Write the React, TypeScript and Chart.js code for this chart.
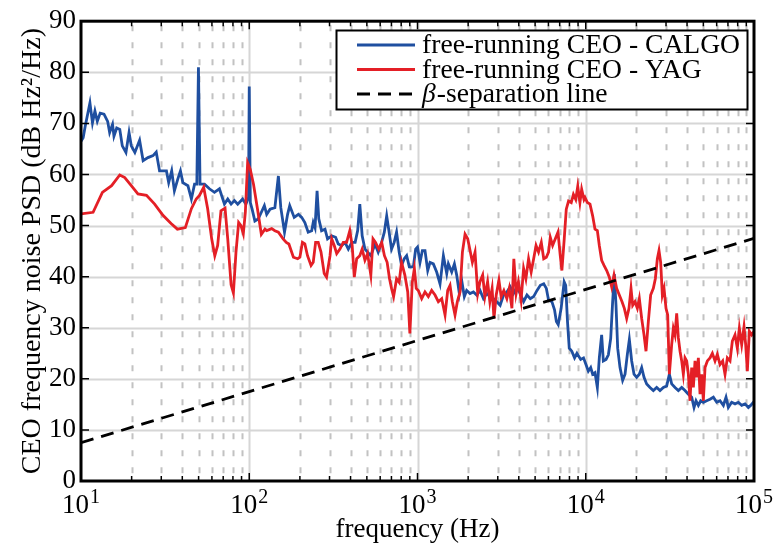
import React, { useEffect, useRef } from 'react';
import { Chart, registerables } from 'chart.js';

Chart.register(...registerables);

const FONT = '"Liberation Serif", "Times New Roman", serif';

// ---------- data ----------
const calgoFreq = [
  10.0, 10.3, 10.6, 11.3, 11.7, 12.1, 12.5, 13.0, 13.7, 14.4, 14.8, 15.4, 15.7, 16.3, 17.0, 17.6, 18.5, 19.3, 19.9, 20.9,
  22.3, 23.4, 25.0, 26.8, 28.0, 29.3, 32.2, 33.2, 34.6, 35.9, 37.6, 39.0, 40.3, 43.2, 45.3, 47.3, 48.8, 49.9, 51.0, 54.2,
  58.0, 62.1, 66.5, 71.2, 74.5, 78.0, 81.6, 85.4, 91.3, 95.5, 99.0, 100, 101.5, 104, 108, 113, 118, 123, 127, 133,
  142, 149, 154, 162, 169, 174, 185, 196, 205, 214, 224, 235, 240, 246, 253, 259, 269, 282, 292, 309,
  326, 338, 354, 371, 388, 407, 426, 441, 454, 469, 487, 505, 528, 559, 584, 612, 635, 656, 676, 701,
  727, 751, 778, 804, 834, 862, 894, 945, 975, 1000, 1035, 1069, 1108, 1150, 1187, 1242, 1300, 1361, 1425, 1492,
  1526, 1597, 1657, 1710, 1773, 1830, 1898, 1960, 2052, 2149, 2249, 2353, 2465, 2580, 2701, 2828, 2960, 3099, 3245, 3397,
  3556, 3723, 3898, 4081, 4272, 4473, 4683, 4902, 5132, 5373, 5626, 5833, 6010, 6292, 6523, 6690, 6860, 7140, 7440, 7600,
  7790, 7980, 8260, 8580, 8860, 9330, 9700, 10030, 10360, 10700, 10990, 11350, 11720, 12040, 12430, 12720, 13200, 13630, 14070, 14450,
  14790, 15130, 15480, 15980, 16570, 17120, 17670, 18160, 18750, 19360, 20070, 20820, 21500, 22200, 23020, 24090, 25220, 26400, 27630, 28920,
  30270, 31400, 32410, 33930, 35520, 37180, 38900, 40720, 42620, 44010, 45230, 46700, 48210, 50000, 52330, 54790, 57350, 60030, 62810, 65740,
  68180, 70390, 73660, 77130, 80720, 84490, 88430, 92560, 95540, 99100, 100000,
];
const calgoPSD = [
  66.5, 67.2, 69.5, 74.0, 70.1, 72.4, 70.4, 72.0, 71.8, 70.4, 68.2, 69.8, 67.5, 69.1, 68.8, 65.6, 64.3, 68.2, 65.6, 64.3,
  66.7, 62.7, 63.3, 63.7, 64.4, 60.7, 60.7, 58.4, 60.7, 56.8, 59.1, 60.7, 58.4, 57.8, 55.2, 58.1, 58.1, 81.0, 58.1, 58.1,
  57.2, 56.5, 57.2, 54.2, 55.2, 54.2, 54.9, 54.2, 55.2, 54.2, 55.5, 77.2, 54.5, 53.2, 50.9, 51.3, 52.6, 53.9, 52.2, 53.2,
  53.5, 59.7, 53.5, 48.7, 52.2, 53.9, 51.6, 52.2, 51.6, 50.6, 48.7, 49.0, 50.6, 49.6, 56.8, 51.3, 49.0, 49.3, 47.4, 48.0,
  47.7, 46.4, 46.1, 46.7, 45.4, 46.7, 46.7, 49.0, 54.2, 48.0, 45.4, 44.8, 44.1, 46.4, 44.8, 46.7, 48.7, 51.9, 49.0, 45.4,
  46.7, 48.7, 44.8, 42.2, 43.5, 44.1, 41.9, 41.9, 45.4, 45.8, 42.8, 45.1, 45.1, 41.2, 42.8, 42.5, 40.9, 38.6, 44.1, 40.6,
  42.5, 40.9, 42.5, 40.3, 36.7, 39.3, 36.1, 37.3, 36.7, 37.0, 36.4, 37.3, 35.7, 36.7, 36.1, 35.7, 35.1, 34.4, 36.4, 37.0,
  38.0, 36.7, 38.0, 36.7, 35.1, 36.4, 35.7, 36.1, 37.3, 38.3, 38.6, 37.7, 35.4, 35.1, 33.5, 31.2, 30.6, 33.8, 39.0, 38.3,
  31.2, 26.0, 25.4, 24.1, 25.0, 23.8, 24.1, 22.8, 21.5, 22.2, 20.9, 21.2, 18.3, 24.1, 28.6, 23.5, 23.8, 24.7, 27.9, 35.1,
  40.5, 34.4, 26.0, 22.2, 19.7, 20.9, 24.8, 27.7, 23.5, 20.9, 20.3, 20.9, 22.2, 20.3, 19.0, 18.3, 17.7, 18.3, 17.7, 18.3,
  18.6, 20.9, 19.0, 18.3, 17.7, 18.3, 17.7, 17.0, 16.4, 14.4, 15.7, 14.8, 15.7, 15.4, 15.7, 16.0, 16.4, 15.4, 15.7, 14.8,
  16.4, 14.4, 15.4, 15.1, 15.4, 14.8, 15.1, 14.4, 14.8, 15.4, 15.0,
];

const yagFreq = [
  10, 11.8, 13.4, 15.2, 17.0, 18.2, 19.9, 21.8, 24.5, 27.4, 30.7, 34.3, 37.4, 41.7, 45.3, 48.4, 50.6, 53.6, 56.6, 59.8,
  62.4, 64.9, 67.9, 71.8, 74.5, 78.0, 80.5, 83.4, 86.5, 89.3, 92.2, 94.8, 97.8, 101.4, 106, 112, 118, 124, 127, 136,
  142, 149, 159, 166, 172, 183, 194, 200, 207, 214, 222, 233, 240, 248, 257, 267, 279, 288, 302, 309,
  320, 331, 346, 362, 379, 396, 409, 421, 435, 454, 469, 487, 505, 528, 544, 563, 588, 613, 636, 660,
  682, 701, 721, 751, 778, 804, 841, 875, 901, 931, 958, 983, 1011, 1059, 1108, 1160, 1214, 1271, 1330, 1393,
  1458, 1512, 1561, 1611, 1671, 1725, 1790, 1849, 1917, 1988, 2053, 2119, 2198, 2280, 2352, 2440, 2515, 2610, 2692, 2776,
  2848, 2937, 3047, 3143, 3261, 3397, 3510, 3640, 3738, 3856, 3978, 4128, 4272, 4408, 4572, 4738, 4902, 5066, 5242, 5442,
  5626, 5833, 6010, 6155, 6355, 6593, 6840, 7055, 7215, 7450, 7660, 7900, 8200, 8447, 8720, 8965, 9234, 9456, 9763, 9900,
  10220, 10600, 10990, 11350, 11720, 12040, 12430, 12840, 13320, 13810, 14260, 14720, 15260, 15830, 16430, 16960, 17510, 18070, 18580, 19010,
  19620, 20260, 20820, 21500, 22200, 22810, 23550, 24310, 25220, 25920, 26640, 27250, 27880, 28530, 29190, 29990, 30690, 31400, 32410, 33160,
  33930, 34710, 35520, 36340, 37180, 38020, 38900, 39800, 40720, 41660, 42620, 43610, 44620, 45640, 46700, 47770, 48880, 50000, 51160, 52820,
  54790, 56560, 58660, 60560, 62810, 65150, 67260, 69440, 72020, 74360, 77130, 79620, 81840, 84490, 87230, 89240, 91300, 93830, 96870, 100000,
];
const yagPSD = [
  52.3, 52.6, 56.5, 57.8, 59.9, 59.4, 57.8, 56.2, 55.9, 54.2, 52.0, 50.4, 49.3, 49.6, 53.3, 55.2, 55.9, 57.5, 53.3, 47.4,
  44.1, 46.1, 52.9, 53.4, 47.4, 38.4, 36.8, 44.8, 50.6, 50.0, 48.4, 52.6, 62.3, 61.0, 58.1, 53.2, 48.3, 49.3, 49.0, 49.4,
  49.0, 48.7, 47.4, 46.7, 46.4, 43.8, 43.5, 43.8, 46.7, 46.4, 44.1, 42.2, 42.8, 46.7, 46.7, 44.8, 40.6, 39.9, 44.1, 47.4,
  46.1, 44.5, 45.4, 46.7, 46.7, 49.0, 46.1, 39.9, 43.5, 44.1, 45.4, 43.2, 44.5, 40.3, 47.4, 46.7, 45.4, 46.7, 44.1, 42.8,
  39.6, 37.7, 36.1, 39.6, 38.9, 42.8, 40.3, 37.0, 28.9, 38.9, 41.6, 37.7, 37.3, 35.7, 37.0, 36.1, 37.3, 36.4, 35.1, 35.7,
  32.5, 37.3, 38.3, 35.1, 32.5, 35.1, 37.0, 44.8, 48.3, 47.4, 45.1, 42.8, 44.8, 36.7, 39.0, 40.3, 36.1, 39.0, 35.1, 37.7,
  31.8, 36.4, 39.3, 36.1, 37.3, 35.7, 37.7, 33.8, 43.5, 36.7, 39.0, 35.4, 41.6, 39.6, 43.5, 40.9, 43.5, 46.1, 44.8, 46.7,
  43.5, 43.8, 44.8, 47.7, 46.1, 47.4, 48.7, 44.1, 41.2, 47.4, 53.2, 54.8, 54.5, 56.1, 55.1, 57.7, 54.5, 57.1, 55.1, 55.5,
  54.5, 54.2, 51.9, 49.3, 49.0, 46.1, 43.2, 42.2, 41.2, 39.9, 38.0, 40.3, 37.7, 36.4, 35.1, 33.8, 31.8, 33.8, 37.7, 34.4,
  35.1, 33.8, 35.7, 31.8, 28.6, 25.4, 31.2, 36.4, 37.7, 39.6, 43.5, 45.1, 42.8, 36.4, 37.7, 33.8, 32.5, 20.9, 26.7, 29.9,
  28.6, 32.8, 28.0, 25.4, 23.5, 20.9, 24.1, 23.5, 20.9, 15.7, 22.2, 18.3, 23.5, 20.3, 24.1, 17.0, 20.9, 15.7, 22.2, 23.5,
  24.1, 25.0, 23.5, 24.8, 22.8, 23.5, 20.9, 24.1, 23.5, 27.4, 28.6, 26.0, 29.9, 26.7, 30.2, 26.7, 21.5, 29.3, 28.6, 29.3,
];

const betaFreq = [10, 100000];
const betaPSD = [7.5, 47.5];

// axes / ticks
const xMin = 10;
const xMax = 100000;
const yMin = 0;
const yMax = 90;
const yStep = 10;
const xDecades = [10, 100, 1000, 10000, 100000];
const xDecadeExponents = ['1', '2', '3', '4', '5'];
const minorMultipliers = [2, 3, 4, 5, 6, 7, 8, 9];

const seriesLabels = ['free-running CEO - CALGO', 'free-running CEO - YAG', 'β', '-separation line'];
const xTitle = 'frequency (Hz)';
const yTitle = 'CEO frequency noise PSD (dB Hz²/Hz)';

const BLUE = '#1f4fa0';
const RED = '#e41f26';

const toPoints = (xs: number[], ys: number[]) => xs.map((x, i) => ({ x, y: ys[i] }));

const decorPlugin = {
  id: 'decor',
  beforeDatasetsDraw(chart: any) {
    const { ctx, chartArea: a, scales } = chart;
    const x = scales.x;
    const y = scales.y;
    ctx.save();
    // horizontal grid
    ctx.strokeStyle = '#d6d6d6';
    ctx.lineWidth = 2;
    for (let v = yMin + yStep; v < yMax; v += yStep) {
      const py = Math.round(y.getPixelForValue(v)) + 0.5;
      ctx.beginPath();
      ctx.moveTo(a.left, py);
      ctx.lineTo(a.right, py);
      ctx.stroke();
    }
    // vertical major
    for (const d of xDecades) {
      if (d <= xMin || d >= xMax) continue;
      const px = Math.round(x.getPixelForValue(d)) + 0.5;
      ctx.beginPath();
      ctx.moveTo(px, a.top);
      ctx.lineTo(px, a.bottom);
      ctx.stroke();
    }
    // vertical minor dashed
    ctx.strokeStyle = '#c2c2c2';
    ctx.setLineDash([6, 11]);
    ctx.lineDashOffset = -4;
    for (const d of xDecades) {
      if (d >= xMax) continue;
      for (const m of minorMultipliers) {
        const px = Math.round(x.getPixelForValue(d * m)) + 0.5;
        ctx.beginPath();
        ctx.moveTo(px, a.top);
        ctx.lineTo(px, a.bottom);
        ctx.stroke();
      }
    }
    ctx.restore();
  },
  afterDatasetsDraw(chart: any) {
    const { ctx, chartArea: a, scales } = chart;
    const x = scales.x;
    const y = scales.y;
    ctx.save();
    ctx.strokeStyle = '#000';
    ctx.lineWidth = 1.5;
    // y ticks (left and right, inward)
    for (let v = yMin; v <= yMax; v += yStep) {
      const py = y.getPixelForValue(v);
      ctx.beginPath();
      ctx.moveTo(a.left, py);
      ctx.lineTo(a.left + 8, py);
      ctx.moveTo(a.right, py);
      ctx.lineTo(a.right - 8, py);
      ctx.stroke();
    }
    // x ticks (top and bottom, inward)
    for (const d of xDecades) {
      const px = x.getPixelForValue(d);
      ctx.beginPath();
      ctx.moveTo(px, a.bottom);
      ctx.lineTo(px, a.bottom - 8);
      ctx.moveTo(px, a.top);
      ctx.lineTo(px, a.top + 8);
      ctx.stroke();
      if (d >= xMax) continue;
      for (const m of minorMultipliers) {
        const pm = x.getPixelForValue(d * m);
        ctx.beginPath();
        ctx.moveTo(pm, a.bottom);
        ctx.lineTo(pm, a.bottom - 5);
        ctx.moveTo(pm, a.top);
        ctx.lineTo(pm, a.top + 5);
        ctx.stroke();
      }
    }
    // frame
    ctx.lineWidth = 3;
    ctx.strokeRect(a.left, a.top, a.right - a.left, a.bottom - a.top);
    ctx.restore();
  },
  afterDraw(chart: any) {
    const { ctx, chartArea: a, scales } = chart;
    const x = scales.x;
    ctx.save();
    // x tick labels with superscript exponent
    ctx.fillStyle = '#000';
    ctx.textBaseline = 'alphabetic';
    ctx.textAlign = 'left';
    xDecades.forEach((d, i) => {
      const px = x.getPixelForValue(d);
      ctx.font = `27px ${FONT}`;
      const wb = ctx.measureText('10').width;
      ctx.font = `20px ${FONT}`;
      const we = ctx.measureText(xDecadeExponents[i]).width;
      const start = px - (wb + we + 1) / 2;
      ctx.font = `27px ${FONT}`;
      ctx.fillText('10', start, a.bottom + 32);
      ctx.font = `20px ${FONT}`;
      ctx.fillText(xDecadeExponents[i], start + wb + 1, a.bottom + 22);
    });

    // legend
    const bx = 336, by = 30, bw = 411, bh = 79;
    ctx.fillStyle = '#fff';
    ctx.fillRect(bx, by, bw, bh);
    ctx.strokeStyle = '#000';
    ctx.lineWidth = 2;
    ctx.strokeRect(bx + 0.5, by + 0.5, bw, bh);
    const rows = [
      { color: BLUE, dash: [] as number[], base: 53 },
      { color: RED, dash: [] as number[], base: 77.5 },
      { color: '#000', dash: [13, 8], base: 102 },
    ];
    rows.forEach((r, i) => {
      ctx.strokeStyle = r.color;
      ctx.lineWidth = 2.8;
      ctx.setLineDash(r.dash);
      ctx.beginPath();
      ctx.moveTo(357, r.base - 8);
      ctx.lineTo(415, r.base - 8);
      ctx.stroke();
      ctx.setLineDash([]);
      ctx.fillStyle = '#000';
      if (i < 2) {
        ctx.font = `27.6px ${FONT}`;
        ctx.fillText(seriesLabels[i], 422, r.base);
      } else {
        ctx.font = `italic 27.6px ${FONT}`;
        ctx.fillText(seriesLabels[2], 422, r.base);
        const wb = ctx.measureText(seriesLabels[2]).width;
        ctx.font = `27.6px ${FONT}`;
        ctx.fillText(seriesLabels[3], 422 + wb + 1, r.base);
      }
    });
    ctx.restore();
  },
};

export default function App() {
  const ref = useRef<HTMLCanvasElement | null>(null);
  useEffect(() => {
    if (!ref.current) return;
    const chart = new Chart(ref.current, {
      type: 'line',
      data: {
        datasets: [
          {
            label: seriesLabels[2] + seriesLabels[3],
            data: toPoints(betaFreq, betaPSD),
            borderColor: '#000',
            borderWidth: 2.8,
            borderDash: [13, 8],
            pointRadius: 0,
            tension: 0,
          },
          {
            label: seriesLabels[1],
            data: toPoints(yagFreq, yagPSD),
            borderColor: RED,
            borderWidth: 2.8,
            pointRadius: 0,
            tension: 0,
          },
          {
            label: seriesLabels[0],
            data: toPoints(calgoFreq, calgoPSD),
            borderColor: BLUE,
            borderWidth: 2.8,
            pointRadius: 0,
            tension: 0,
          },
        ],
      },
      options: {
        animation: false,
        responsive: false,
        devicePixelRatio: 1,
        layout: { padding: { left: 0, top: 17, right: 19, bottom: 0 } },
        plugins: { legend: { display: false }, tooltip: { enabled: false } },
        scales: {
          x: {
            type: 'logarithmic',
            min: xMin,
            max: xMax,
            grid: { display: false, drawTicks: false },
            border: { display: false },
            ticks: { display: false },
            title: {
              display: true,
              text: xTitle,
              color: '#000',
              font: { family: FONT, size: 27 },
              padding: { top: 0, bottom: 0 },
            },
            afterFit: (s: any) => {
              s.height = 65;
            },
          },
          y: {
            type: 'linear',
            min: yMin,
            max: yMax,
            grid: { display: false, drawTicks: false },
            border: { display: false },
            ticks: {
              stepSize: yStep,
              color: '#000',
              padding: 5,
              font: { family: FONT, size: 27 },
            },
            title: {
              display: true,
              text: yTitle,
              color: '#000',
              font: { family: FONT, size: 28 },
              padding: { top: 16, bottom: 0 },
            },
            afterFit: (s: any) => {
              s.width = 81;
            },
          },
        },
      },
      plugins: [decorPlugin],
    } as any);
    return () => chart.destroy();
  }, []);
  return (
    <div style={{ position: 'absolute', left: 0, top: 0, width: 773, height: 546, background: '#fff' }}>
      <canvas ref={ref} width={773} height={546} style={{ display: 'block', width: 773, height: 546 }} />
    </div>
  );
}
